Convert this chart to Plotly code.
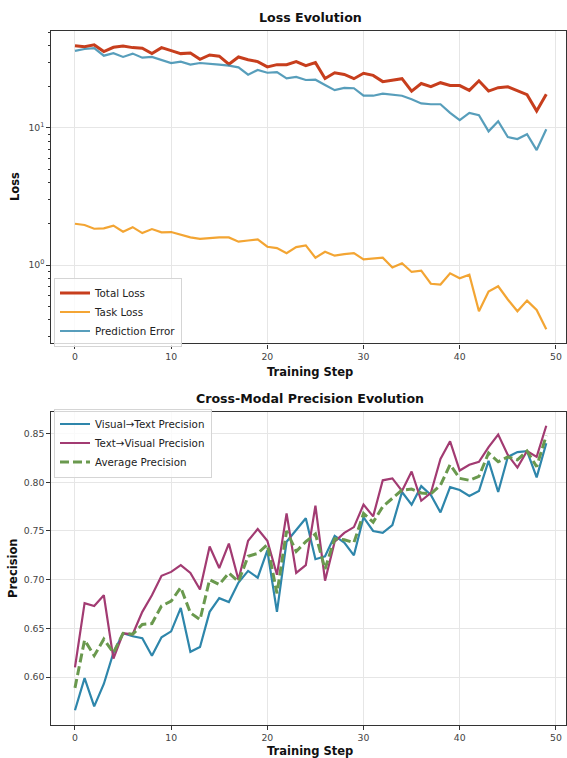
import plotly.graph_objects as go

W, H = 567, 758

steps = list(range(50))

total_loss = [39.9, 39.2, 40.4, 36.1, 38.8, 39.7, 38.6, 38.2, 34.9, 38.6,
              36.7, 34.9, 35.3, 31.7, 34.1, 33.4, 29.2, 33.0, 31.5, 30.5,
              27.9, 29.0, 29.0, 30.5, 28.5, 30.0, 23.0, 25.3, 24.6, 22.9,
              25.1, 24.2, 21.8, 22.3, 22.9, 18.6, 21.1, 20.0, 21.4, 20.4,
              20.4, 18.8, 22.1, 18.6, 19.7, 20.0, 18.6, 17.5, 13.3, 17.6]
task_loss = [2.00, 1.96, 1.84, 1.85, 1.94, 1.75, 1.89, 1.71, 1.83, 1.73,
             1.74, 1.66, 1.59, 1.55, 1.57, 1.59, 1.59, 1.48, 1.51, 1.54,
             1.36, 1.33, 1.22, 1.35, 1.39, 1.13, 1.25, 1.17, 1.20, 1.22,
             1.10, 1.11, 1.13, 0.96, 1.03, 0.89, 0.91, 0.73, 0.72, 0.87,
             0.80, 0.85, 0.46, 0.64, 0.70, 0.56, 0.46, 0.55, 0.47, 0.34]
pred_error = [36.5, 37.7, 38.2, 33.7, 35.1, 33.0, 34.9, 32.6, 33.0, 31.2,
              29.8, 30.5, 29.0, 29.8, 29.5, 29.0, 28.5, 27.7, 24.5, 26.5,
              25.3, 25.6, 23.0, 23.6, 22.4, 22.5, 20.6, 18.9, 19.6, 19.5,
              17.2, 17.2, 17.8, 17.6, 17.2, 16.2, 15.1, 14.9, 14.9, 12.9,
              11.4, 12.9, 12.4, 9.45, 11.2, 8.6, 8.3, 9.0, 6.9, 9.8]

v2t = [0.566, 0.599, 0.570, 0.593, 0.625, 0.645, 0.642, 0.640, 0.622, 0.641,
       0.647, 0.671, 0.626, 0.631, 0.667, 0.681, 0.677, 0.697, 0.709, 0.702,
       0.730, 0.667, 0.739, 0.751, 0.763, 0.721, 0.724, 0.745, 0.738, 0.725,
       0.764, 0.750, 0.748, 0.756, 0.790, 0.777, 0.796, 0.787, 0.769, 0.795,
       0.792, 0.786, 0.791, 0.822, 0.790, 0.826, 0.831, 0.832, 0.805, 0.840]
t2v = [0.610, 0.676, 0.673, 0.684, 0.619, 0.645, 0.644, 0.667, 0.684, 0.704,
       0.708, 0.715, 0.707, 0.690, 0.734, 0.712, 0.737, 0.700, 0.740, 0.752,
       0.740, 0.705, 0.768, 0.707, 0.715, 0.776, 0.699, 0.739, 0.748, 0.754,
       0.777, 0.765, 0.802, 0.804, 0.791, 0.811, 0.781, 0.789, 0.824, 0.842,
       0.812, 0.818, 0.821, 0.836, 0.849, 0.828, 0.815, 0.832, 0.826, 0.858]
avg_prec = [0.589, 0.638, 0.622, 0.639, 0.625, 0.645, 0.644, 0.654, 0.655, 0.673,
            0.678, 0.692, 0.666, 0.659, 0.700, 0.695, 0.707, 0.698, 0.724, 0.727,
            0.736, 0.686, 0.750, 0.729, 0.739, 0.747, 0.711, 0.742, 0.741, 0.738,
            0.768, 0.759, 0.775, 0.784, 0.792, 0.793, 0.789, 0.788, 0.797, 0.818,
            0.804, 0.802, 0.806, 0.830, 0.821, 0.826, 0.823, 0.832, 0.816, 0.848]

x_ticks = [0, 10, 20, 30, 40, 50]
loss_ticks = [1, 10]
loss_ticktext = ["10<sup>0</sup>", "10<sup>1</sup>"]
prec_ticks = [0.60, 0.65, 0.70, 0.75, 0.80, 0.85]

FONT = "DejaVu Sans"
SPINE = "#333333"
GRID = "#e6e6e6"
TICKFONT = dict(family=FONT, size=9.3, color="#444444")

fig = go.Figure()

fig.add_trace(go.Scatter(x=steps, y=total_loss, mode="lines", name="Total Loss",
                         line=dict(color="#C73E1D", width=3), xaxis="x", yaxis="y",
                         legend="legend"))
fig.add_trace(go.Scatter(x=steps, y=task_loss, mode="lines", name="Task Loss",
                         line=dict(color="#F18F01", width=2.2), opacity=0.8,
                         xaxis="x", yaxis="y", legend="legend"))
fig.add_trace(go.Scatter(x=steps, y=pred_error, mode="lines", name="Prediction Error",
                         line=dict(color="#2E86AB", width=2.2), opacity=0.8,
                         xaxis="x", yaxis="y", legend="legend"))

fig.add_trace(go.Scatter(x=steps, y=v2t, mode="lines", name="Visual→Text Precision",
                         line=dict(color="#2E86AB", width=2.2), xaxis="x2", yaxis="y2",
                         legend="legend2"))
fig.add_trace(go.Scatter(x=steps, y=t2v, mode="lines", name="Text→Visual Precision",
                         line=dict(color="#A23B72", width=2.2), xaxis="x2", yaxis="y2",
                         legend="legend2"))
fig.add_trace(go.Scatter(x=steps, y=avg_prec, mode="lines", name="Average Precision",
                         line=dict(color="#6A994E", width=3, dash="9px,4px"),
                         xaxis="x2", yaxis="y2", legend="legend2"))

def px_x(p):
    return p / W

def px_y(p):
    return 1 - p / H

x_dom = [px_x(51.4), px_x(566)]
top_dom = [px_y(343.4), px_y(30.7)]
bot_dom = [px_y(724.5), px_y(411.5)]

common_x = dict(range=[-2.45, 51.05], tickvals=x_ticks, showline=True, mirror=True,
                linecolor=SPINE, linewidth=1.2, ticks="outside", ticklen=4,
                tickcolor=SPINE, tickwidth=1, showgrid=True, gridcolor=GRID,
                gridwidth=1, zeroline=False, tickfont=TICKFONT, automargin=False,
                domain=x_dom)

minor_vals = [k * 10 ** e for e in (-1, 0, 1) for k in range(2, 10)]

legend_style = dict(xanchor="left", yanchor="middle",
                    bgcolor="rgba(255,255,255,0.8)", bordercolor="#d5d5d5",
                    borderwidth=1, font=dict(family=FONT, size=10.3, color="#222222"),
                    itemwidth=30, tracegroupgap=0)

fig.update_layout(
    width=W, height=H,
    margin=dict(l=0, r=0, t=0, b=0),
    paper_bgcolor="white", plot_bgcolor="white",
    font=dict(family=FONT, color="#222222"),
    xaxis=dict(common_x, anchor="y"),
    yaxis=dict(type="log", range=[-0.572, 1.710], tickvals=loss_ticks,
               ticktext=loss_ticktext, showline=True, mirror=True, linecolor=SPINE,
               linewidth=1.2, ticks="outside", ticklen=4, tickcolor=SPINE,
               showgrid=True, gridcolor=GRID, zeroline=False, tickfont=TICKFONT,
               automargin=False, domain=top_dom, anchor="x",
               minor=dict(tickvals=minor_vals, ticks="outside", ticklen=2,
                          tickcolor=SPINE, showgrid=False)),
    xaxis2=dict(common_x, anchor="y2"),
    yaxis2=dict(range=[0.5514, 0.8726], tickvals=prec_ticks, tickformat=".2f",
                showline=True, mirror=True, linecolor=SPINE, linewidth=1.2,
                ticks="outside", ticklen=4, tickcolor=SPINE, showgrid=True,
                gridcolor=GRID, zeroline=False, tickfont=TICKFONT,
                automargin=False, domain=bot_dom, anchor="x2"),
    legend=dict(legend_style, x=px_x(54), y=px_y(312)),
    legend2=dict(legend_style, x=px_x(54), y=px_y(443)),
    showlegend=True,
)

def ann(text, x, y, size, angle=0):
    fig.add_annotation(text=text, x=x, y=y, xref="paper", yref="paper",
                       xanchor="center", yanchor="middle", showarrow=False,
                       textangle=angle,
                       font=dict(family=FONT, size=size, color="#111111"))

ann("<b>Loss Evolution</b>", px_x(310), px_y(17), 12.6)
ann("<b>Cross-Modal Precision Evolution</b>", px_x(310), px_y(398), 12.6)
ann("<b>Training Step</b>", px_x(310), px_y(372), 11.5)
ann("<b>Training Step</b>", px_x(310), px_y(750.5), 11.5)
ann("<b>Loss</b>", px_x(15), px_y(187), 11.5, -90)
ann("<b>Precision</b>", px_x(13), px_y(568), 11.5, -90)

fig.write_html("out.html",
               config={"displayModeBar": False},
               post_script="document.body.style.margin='0';document.body.style.overflow='hidden';")
